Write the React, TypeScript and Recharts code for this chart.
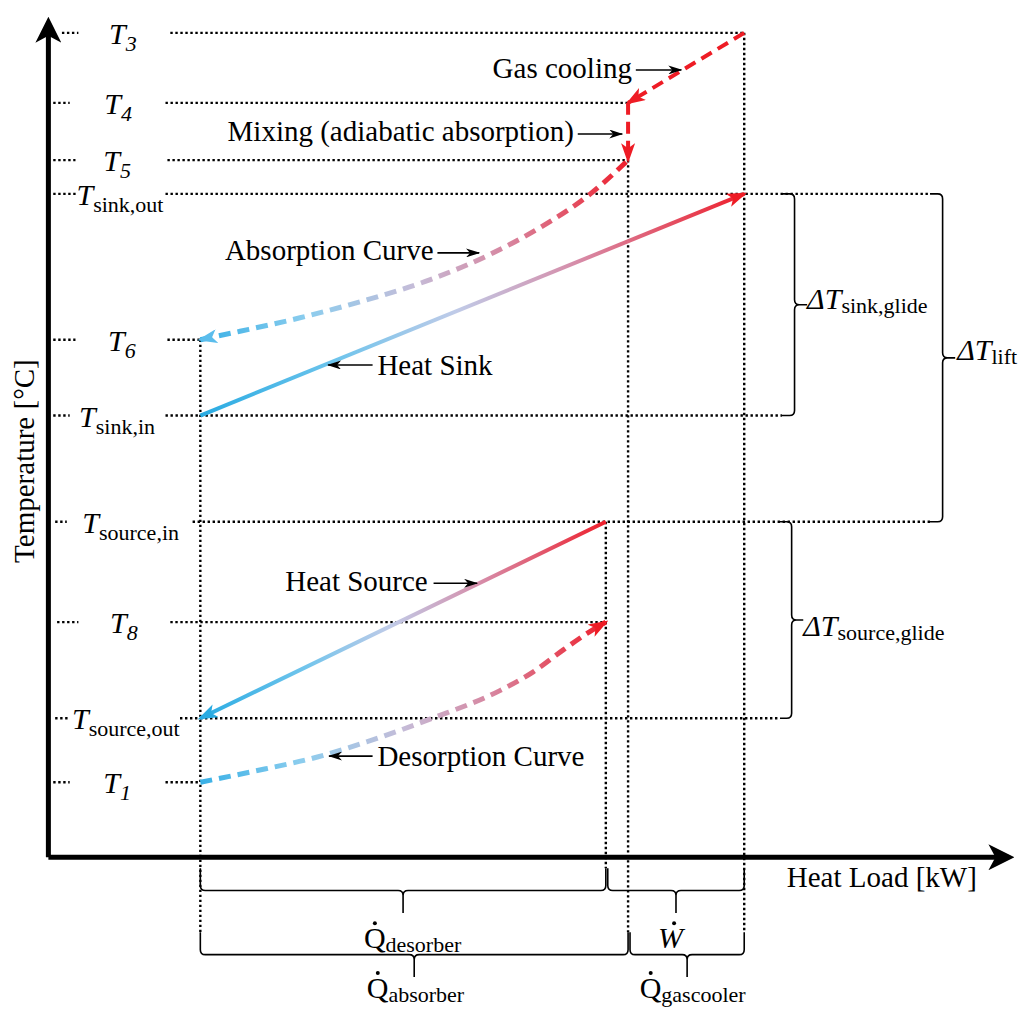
import React from 'react';
import { ComposedChart, Line, XAxis, YAxis, ReferenceLine, ReferenceDot, ReferenceArea } from 'recharts';

// axis domains (heat load in kW, temperature in °C)
const X_MIN = -5;
const X_MAX = 100.5;
const Y_MIN = -18;
const Y_MAX = 101.7;

// heat load break points
const Q_START = 15.7;
const Q_DES_END = 57.6;
const Q_ABS_END = 59.9;
const Q_GC_END = 71.9;

// temperature levels
const levelSubs = ['3', '4', '5', 'sink,out', '6', 'sink,in', 'source,in', '8', 'source,out', '1'];
const levelTemps = [97.8, 89.5, 82.7, 78.7, 61.4, 52.4, 39.8, 27.9, 16.5, 8.9];
const [T3, T4, T5, T_SINK_OUT, T6, T_SINK_IN, T_SOURCE_IN, T8, T_SOURCE_OUT, T1] = levelTemps;

// curves
const sinkLoad = [Q_START, Q_GC_END];
const sinkTemp = [T_SINK_IN, T_SINK_OUT];
const sourceLoad = [Q_DES_END, Q_START];
const sourceTemp = [T_SOURCE_IN, T_SOURCE_OUT];
const absorptionLoad = [15.7, 19.8, 26.0, 32.2, 39.4, 45.6, 50.8, 56.0, 59.9];
const absorptionTemp = [61.4, 62.4, 64.0, 65.9, 68.5, 71.5, 74.7, 78.7, 82.7];
const desorptionLoad = [15.7, 20.8, 27.8, 32.9, 39.7, 46.7, 50.1, 53.2, 55.7, 57.6];
const desorptionTemp = [8.9, 10.1, 11.9, 13.7, 16.5, 19.8, 22.0, 24.6, 26.6, 27.9];
const gasCoolingLoad = [Q_GC_END, Q_ABS_END];
const gasCoolingTemp = [T3, T4];
const mixingLoad = [Q_ABS_END, Q_ABS_END];
const mixingTemp = [T4, T5];

// bracket extents
const ROW1 = [-1.3, -6.6];
const ROW2 = [-8.9, -14.2];
const SINK_BR = [75.8, 78.4];
const LIFT_BR = [91.1, 93.7];
const SOURCE_BR = [75.6, 78.0];

// layout of the level labels and guide lines
const labelX = [7.7, 7.2, 7.1, 7.4, 7.6, 7.1, 8.5, 7.8, 8.0, 7.1];
const stubStart = [1.4, 0.5, 0.5, 0.5, 0.5, 0.5, 0.7, 0.9, 0.7, 0.5];
const stubEnd = [3.1, 2.2, 2.8, 3.0, 2.8, 2.2, 1.9, 3.1, 2.0, 2.2];
const guideStart = [12.6, 12.1, 12.3, 12.1, 12.3, 12.1, 14.9, 12.6, 13.6, 12.1];
const guideEnd = [Q_GC_END, Q_ABS_END, Q_ABS_END, LIFT_BR[0], Q_START, SINK_BR[0], LIFT_BR[0], Q_DES_END, SOURCE_BR[0], Q_START];

const verticalGuides = [
  { x: Q_START, from: T6, to: ROW2[0] },
  { x: Q_DES_END, from: T_SOURCE_IN, to: ROW1[0] },
  { x: Q_ABS_END, from: T5, to: ROW2[0] },
  { x: Q_GC_END, from: T3, to: ROW2[0] },
];

const braces = [
  { dir: 'down', x1: Q_START, x2: Q_DES_END, y1: ROW1[0], y2: ROW1[1] },
  { dir: 'down', x1: Q_DES_END + 0.2, x2: Q_GC_END, y1: ROW1[0], y2: ROW1[1] },
  { dir: 'down', x1: Q_START, x2: Q_ABS_END, y1: ROW2[0], y2: ROW2[1] },
  { dir: 'down', x1: Q_ABS_END + 0.2, x2: Q_GC_END, y1: ROW2[0], y2: ROW2[1] },
  { dir: 'right', x1: SINK_BR[0], x2: SINK_BR[1], y1: T_SINK_IN, y2: T_SINK_OUT },
  { dir: 'right', x1: LIFT_BR[0], x2: LIFT_BR[1], y1: T_SOURCE_IN, y2: T_SINK_OUT },
  { dir: 'right', x1: SOURCE_BR[0], x2: SOURCE_BR[1], y1: T_SOURCE_OUT, y2: T_SOURCE_IN },
];

const braceLabels = [
  { main: 'Q', sub: 'desorber', x: 32.6, y: -10.8, italic: false, dotDx: 11 },
  { main: 'W', sub: '', x: 63.0, y: -10.8, italic: true, dotDx: 16 },
  { main: 'Q', sub: 'absorber', x: 32.9, y: -16.7, italic: false, dotDx: 11 },
  { main: 'Q', sub: 'gascooler', x: 61.1, y: -16.7, italic: false, dotDx: 11 },
  { main: 'ΔT', sub: 'sink,glide', x: 78.4, y: 65.0, italic: true, dotDx: 0 },
  { main: 'ΔT', sub: 'lift', x: 93.9, y: 59.0, italic: true, dotDx: 0 },
  { main: 'ΔT', sub: 'source,glide', x: 78.0, y: 26.3, italic: true, dotDx: 0 },
];

const notes = [
  { text: 'Gas cooling', x: 60.3, y: 92.5, anchor: 'end', ax: [60.7, 65.4], ay: 93.4 },
  { text: 'Mixing (adiabatic absorption)', x: 54.3, y: 85.0, anchor: 'end', ax: [54.7, 59.3], ay: 85.8 },
  { text: 'Absorption Curve', x: 39.8, y: 70.9, anchor: 'end', ax: [40.2, 44.5], ay: 71.7 },
  { text: 'Heat Sink', x: 34.0, y: 57.2, anchor: 'start', ax: [33.5, 28.9], ay: 58.4 },
  { text: 'Heat Source', x: 39.2, y: 31.6, anchor: 'end', ax: [39.8, 44.3], ay: 32.5 },
  { text: 'Desorption Curve', x: 34.0, y: 10.8, anchor: 'start', ax: [33.5, 29.0], ay: 12.0 },
];

const pts = (xs: number[], ys: number[]) => xs.map((x, i) => ({ x, y: ys[i] }));

const SERIF = 'Liberation Serif';
const RED = '#ee1c25';
const BLUE = '#29abe2';
const LIGHT_BLUE = '#5bbdec';

function braceShape(dir: string) {
  return (p: any) => {
    const { x, y, width: w, height: h } = p;
    const r = 5;
    let d = '';
    const x0 = x, x1 = x + w, xm = x + w / 2, yT = y, ym = y + h / 2, yB = y + h;
    if (dir === 'down') {
      d = `M${x0},${yT} L${x0},${ym - r} Q${x0},${ym} ${x0 + r},${ym} L${xm - r},${ym} Q${xm},${ym} ${xm},${ym + r} L${xm},${yB}` +
        ` M${xm},${ym + r} Q${xm},${ym} ${xm + r},${ym} L${x1 - r},${ym} Q${x1},${ym} ${x1},${ym - r} L${x1},${yT}`;
    } else {
      d = `M${x0},${yT} L${xm - r},${yT} Q${xm},${yT} ${xm},${yT + r} L${xm},${ym - r} Q${xm},${ym} ${xm + r},${ym} L${x1},${ym}` +
        ` M${xm + r},${ym} Q${xm},${ym} ${xm},${ym + r} L${xm},${yB - r} Q${xm},${yB} ${xm - r},${yB} L${x0},${yB}`;
    }
    return <path d={d} fill="none" stroke="#000" strokeWidth={1.6} />;
  };
}

function symbolShape(main: string, sub: string, mainItalic: boolean, subItalic: boolean, anchor: string, dy: number, subDy: number, dotDx = 0) {
  return (p: any) => {
    const y = p.cy + dy;
    return (
      <g>
        <text x={p.cx} y={y} textAnchor={anchor as any} fontFamily={SERIF} fontSize={30} fill="#000">
          <tspan fontStyle={mainItalic ? 'italic' : 'normal'}>{main}</tspan>
          {sub ? <tspan fontSize={22} dy={subDy} fontStyle={subItalic ? 'italic' : 'normal'}>{sub}</tspan> : null}
        </text>
        {dotDx ? <circle cx={p.cx + dotDx} cy={y - 25} r={2} fill="#000" /> : null}
      </g>
    );
  };
}

function noteShape(text: string, anchor: string) {
  return (p: any) => (
    <text x={p.cx} y={p.cy} textAnchor={anchor as any} fontFamily={SERIF} fontSize={29} fill="#000">{text}</text>
  );
}

const dotted = { stroke: '#000', strokeWidth: 2.4, strokeDasharray: '2.4 2.6' };

export default function App() {
  return (
    <div style={{ position: 'absolute', left: 0, top: 0, background: '#fff' }}>
      <ComposedChart width={1021} height={1009} margin={{ top: 0, right: 0, bottom: 0, left: 0 }}>
        <defs>
          <linearGradient id="coldHot" x1="0" y1="0" x2="1" y2="0">
            <stop offset="0" stopColor="#29abe2" />
            <stop offset="0.25" stopColor="#6ec4ec" />
            <stop offset="0.47" stopColor="#c0cbe8" />
            <stop offset="0.7" stopColor="#d78aa6" />
            <stop offset="1" stopColor="#ee1f2c" />
          </linearGradient>
          <linearGradient id="coldHotDash" x1="0" y1="0" x2="1" y2="0">
            <stop offset="0" stopColor="#38b0e6" />
            <stop offset="0.25" stopColor="#8ccdee" />
            <stop offset="0.5" stopColor="#c5bcd8" />
            <stop offset="0.72" stopColor="#d7859f" />
            <stop offset="1" stopColor="#ee1f2c" />
          </linearGradient>
          <marker id="axisHead" viewBox="0 0 26 26" refX="20" refY="13" markerWidth="26" markerHeight="26" markerUnits="userSpaceOnUse" orient="auto">
            <path d="M0,0 L26,13 L0,26 L7,13 Z" fill="#000" />
          </marker>
          <marker id="redHead" viewBox="0 0 20 14" refX="17" refY="7" markerWidth="20" markerHeight="14" markerUnits="userSpaceOnUse" orient="auto">
            <path d="M0,0 L20,7 L0,14 L5,7 Z" fill={RED} />
          </marker>
          <marker id="blueHead" viewBox="0 0 20 14" refX="17" refY="7" markerWidth="20" markerHeight="14" markerUnits="userSpaceOnUse" orient="auto">
            <path d="M0,0 L20,7 L0,14 L5,7 Z" fill={BLUE} />
          </marker>
          <marker id="lightBlueHead" viewBox="0 0 20 14" refX="17" refY="7" markerWidth="20" markerHeight="14" markerUnits="userSpaceOnUse" orient="auto-start-reverse">
            <path d="M0,0 L20,7 L0,14 L5,7 Z" fill={LIGHT_BLUE} />
          </marker>
          <marker id="blackHead" viewBox="0 0 14 9" refX="13" refY="4.5" markerWidth="14" markerHeight="9" markerUnits="userSpaceOnUse" orient="auto">
            <path d="M0,0 L14,4.5 L0,9 L4,4.5 Z" fill="#000" />
          </marker>
        </defs>
        <XAxis type="number" dataKey="x" domain={[X_MIN, X_MAX]} hide allowDataOverflow />
        <YAxis type="number" dataKey="y" domain={[Y_MIN, Y_MAX]} hide allowDataOverflow />

        {levelTemps.map((t, i) => (
          <ReferenceLine key={`stub-${i}`} segment={[{ x: stubStart[i], y: t }, { x: stubEnd[i], y: t }]} ifOverflow="visible" {...dotted} />
        ))}
        {levelTemps.map((t, i) => (
          <ReferenceLine key={`guide-${i}`} segment={[{ x: guideStart[i], y: t }, { x: guideEnd[i], y: t }]} ifOverflow="visible" {...dotted} />
        ))}
        {verticalGuides.map((g, i) => (
          <ReferenceLine key={`vg-${i}`} segment={[{ x: g.x, y: g.from }, { x: g.x, y: g.to }]} ifOverflow="visible" {...dotted} />
        ))}

        {braces.map((b, i) => (
          <ReferenceArea key={`br-${i}`} x1={b.x1} x2={b.x2} y1={b.y1} y2={b.y2} ifOverflow="visible" shape={braceShape(b.dir)} />
        ))}

        <Line data={pts(sinkLoad, sinkTemp)} dataKey="y" type="linear" stroke="url(#coldHot)" strokeWidth={4} dot={false} activeDot={false} markerEnd="url(#redHead)" isAnimationActive={false} />
        <Line data={pts(sourceLoad, sourceTemp)} dataKey="y" type="linear" stroke="url(#coldHot)" strokeWidth={4} dot={false} activeDot={false} markerEnd="url(#blueHead)" isAnimationActive={false} />
        <Line data={pts(absorptionLoad, absorptionTemp)} dataKey="y" type="monotone" stroke="url(#coldHotDash)" strokeWidth={5} strokeDasharray="12 7" dot={false} activeDot={false} markerStart="url(#lightBlueHead)" isAnimationActive={false} />
        <Line data={pts(desorptionLoad, desorptionTemp)} dataKey="y" type="monotone" stroke="url(#coldHotDash)" strokeWidth={5} strokeDasharray="12 7" dot={false} activeDot={false} markerEnd="url(#redHead)" isAnimationActive={false} />
        <Line data={pts(gasCoolingLoad, gasCoolingTemp)} dataKey="y" type="linear" stroke={RED} strokeWidth={4} strokeDasharray="12 7" dot={false} activeDot={false} markerEnd="url(#redHead)" isAnimationActive={false} />
        <Line data={pts(mixingLoad, mixingTemp)} dataKey="y" type="linear" stroke={RED} strokeWidth={4} strokeDasharray="12 7" dot={false} activeDot={false} markerEnd="url(#redHead)" isAnimationActive={false} />

        {notes.map((n, i) => (
          <Line key={`na-${i}`} data={pts(n.ax, [n.ay, n.ay])} dataKey="y" type="linear" stroke="#000" strokeWidth={1.6} dot={false} activeDot={false} markerEnd="url(#blackHead)" isAnimationActive={false} />
        ))}

        <Line data={pts([0, 0], [0, 99])} dataKey="y" type="linear" stroke="#000" strokeWidth={5} dot={false} activeDot={false} markerEnd="url(#axisHead)" isAnimationActive={false} />
        <Line data={pts([0, 99.2], [0, 0])} dataKey="y" type="linear" stroke="#000" strokeWidth={5} dot={false} activeDot={false} markerEnd="url(#axisHead)" isAnimationActive={false} />

        {levelTemps.map((t, i) => (
          <ReferenceDot key={`lab-${i}`} x={labelX[i]} y={t} r={0} ifOverflow="visible"
            shape={symbolShape('T', levelSubs[i], true, levelSubs[i].length === 1, 'middle', 11, 7)} />
        ))}
        {braceLabels.map((b, i) => (
          <ReferenceDot key={`bl-${i}`} x={b.x} y={b.y} r={0} ifOverflow="visible"
            shape={symbolShape(b.main, b.sub, b.italic, false, 'start', 0, 4, b.dotDx)} />
        ))}
        {notes.map((n, i) => (
          <ReferenceDot key={`nt-${i}`} x={n.x} y={n.y} r={0} ifOverflow="visible" shape={noteShape(n.text, n.anchor)} />
        ))}
        <ReferenceDot x={76.3} y={-3.5} r={0} ifOverflow="visible" shape={noteShape('Heat Load [kW]', 'start')} />
        <ReferenceDot x={-1.5} y={47.0} r={0} ifOverflow="visible"
          shape={(p: any) => (
            <text x={p.cx} y={p.cy} transform={`rotate(-90 ${p.cx} ${p.cy})`} textAnchor="middle" fontFamily={SERIF} fontSize={29} fill="#000">
              Temperature [°C]
            </text>
          )} />
      </ComposedChart>
    </div>
  );
}
